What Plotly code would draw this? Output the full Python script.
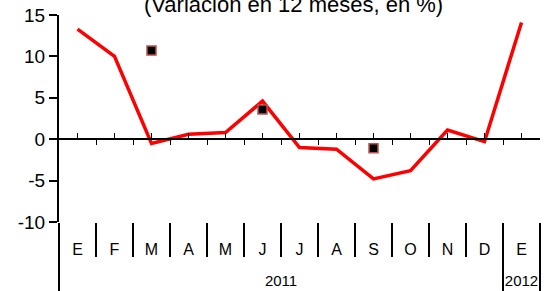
import plotly.graph_objects as go

months = ["E", "F", "M", "A", "M", "J", "J", "A", "S", "O", "N", "D", "E"]
years = ["2011"] * 12 + ["2012"]
line_values = [13.3, 10.0, -0.5, 0.6, 0.8, 4.6, -1.0, -1.2, -4.8, -3.8, 1.1, -0.3, 14.1]
marker_values = [None, None, 10.7, None, None, 3.6, None, None, -1.1, None, None, None, None]
y_ticks = [-10, -5, 0, 5, 10, 15]
y_tick_text = ["-10", "-5", "0", "5", "10", "15"]
title_text = "(Variación en 12 meses, en %)"

y_min, y_max = -10, 15
FONT = "Liberation Sans, Arial, sans-serif"

n = len(months)
idx = list(range(n))

# year groups
year_names = []
for yv in years:
    if yv not in year_names:
        year_names.append(yv)
year_centers = [sum(i for i in idx if years[i] == yv) / years.count(yv) for yv in year_names]
inner_bounds = [i + 0.5 for i in range(n - 1) if years[i] == years[i + 1]]
group_bounds = [-0.5] + [i + 0.5 for i in range(n - 1) if years[i] != years[i + 1]] + [n - 0.5]

fig = go.Figure()
fig.add_trace(go.Scatter(
    x=idx, y=line_values, mode="lines",
    line=dict(color="#ff0000", width=3.5),
    showlegend=False, hoverinfo="skip",
))
fig.add_trace(go.Scatter(
    x=idx, y=marker_values, mode="markers",
    marker=dict(symbol="square", size=9, color="#000000",
                line=dict(color="#c0504d", width=1.5)),
    showlegend=False, hoverinfo="skip",
))
for ax in ["x2", "x3", "x4", "x5", "x6"]:
    fig.add_trace(go.Scatter(x=[None], y=[None], xaxis=ax, showlegend=False, hoverinfo="skip"))

zero_pos = (0 - y_min) / (y_max - y_min)
xr = [-0.5, n - 0.5]

common = dict(range=xr, showgrid=False, zeroline=False, automargin=False, fixedrange=True)

fig.update_layout(
    width=544, height=291,
    margin=dict(l=59, r=4, t=15, b=69),
    paper_bgcolor="white", plot_bgcolor="white",
    font=dict(family=FONT, size=16, color="#000000"),
    xaxis=dict(
        **common, showline=False, tickmode="array", tickvals=idx, ticktext=months,
        ticks="", ticklabelstandoff=16, tickfont=dict(size=16),
    ),
    xaxis2=dict(
        **common, overlaying="x", anchor="free", position=zero_pos,
        showline=True, linecolor="#000000", linewidth=2,
        tickmode="array", tickvals=idx, ticks="inside",
        ticklen=5, tickwidth=1, tickcolor="#000000", showticklabels=False,
    ),
    xaxis3=dict(
        **common, overlaying="x", anchor="free", position=zero_pos,
        showline=False, tickmode="array",
        tickvals=[i + 0.5 for i in range(n - 1)], ticks="outside",
        ticklen=5, tickwidth=1, tickcolor="#000000", showticklabels=False,
    ),
    xaxis4=dict(
        **common, overlaying="x", anchor="y", showline=False,
        tickmode="array", tickvals=inner_bounds, ticks="outside",
        ticklen=34, tickwidth=2, tickcolor="#000000", showticklabels=False,
    ),
    xaxis5=dict(
        **common, overlaying="x", anchor="y", showline=False,
        tickmode="array", tickvals=group_bounds, ticks="outside",
        ticklen=69, tickwidth=2, tickcolor="#000000", showticklabels=False,
    ),
    xaxis6=dict(
        **common, overlaying="x", anchor="y", showline=False,
        tickmode="array", tickvals=year_centers, ticktext=year_names,
        ticks="", ticklabelstandoff=48, tickfont=dict(size=15),
    ),
    yaxis=dict(
        range=[y_min, y_max], tickmode="array", tickvals=y_ticks, ticktext=y_tick_text,
        showgrid=False, zeroline=False, showline=True, automargin=False, fixedrange=True,
        linecolor="#000000", linewidth=2, ticks="outside", ticklen=8,
        tickwidth=2, tickcolor="#000000", tickfont=dict(size=19),
    ),
    annotations=[dict(
        text=title_text, xref="paper", yref="paper", x=0.4875, y=1,
        xanchor="center", yanchor="middle", yshift=11, showarrow=False,
        font=dict(size=22, family=FONT),
    )],
)

fig.write_html(
    "out.html",
    config={"displayModeBar": False},
    post_script="document.body.style.margin='0';document.body.style.padding='0';document.body.style.overflow='hidden';",
)
